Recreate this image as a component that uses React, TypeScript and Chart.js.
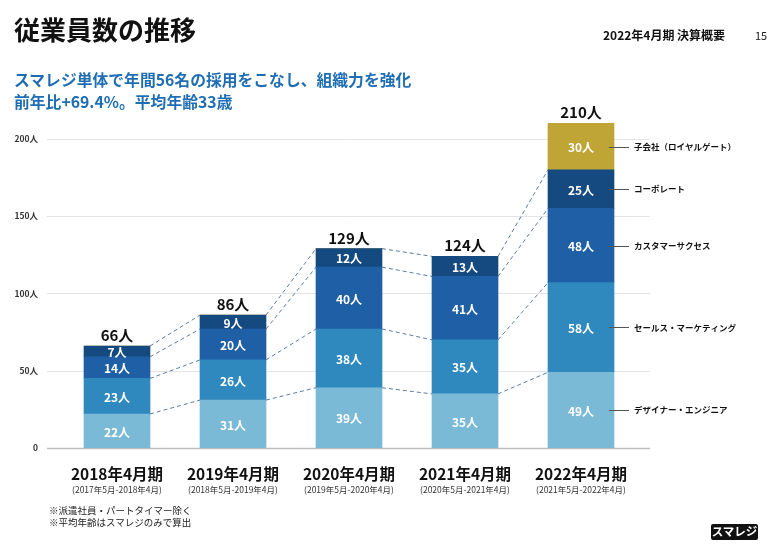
import React, { useEffect, useRef } from "react";
import { Chart, registerables } from "chart.js";
Chart.register(...registerables);

const periods = ["2018年4月期", "2019年4月期", "2020年4月期", "2021年4月期", "2022年4月期"];
const periodRanges = [
  "(2017年5月-2018年4月)",
  "(2018年5月-2019年4月)",
  "(2019年5月-2020年4月)",
  "(2020年5月-2021年4月)",
  "(2021年5月-2022年4月)",
];
const designEngineer = [22, 31, 39, 35, 49];
const salesMarketing = [23, 26, 38, 35, 58];
const customerSuccess = [14, 20, 40, 41, 48];
const corporate = [7, 9, 12, 13, 25];
const subsidiary = [0, 0, 0, 0, 30];
const totals = [66, 86, 129, 124, 210];
const yTicks = [0, 50, 100, 150, 200];
const seriesNames = [
  "デザイナー・エンジニア",
  "セールス・マーケティング",
  "カスタマーサクセス",
  "コーポレート",
  "子会社（ロイヤルゲート）",
];
const seriesColors = ["#7bbad7", "#2f89be", "#1f5fa6", "#154a80", "#bfa436"];

const FONT = '"Noto Sans CJK JP", "Noto Sans", sans-serif';

const gridPlugin = {
  id: "grid",
  beforeDatasetsDraw(chart: any) {
    const ctx = chart.ctx;
    const y = chart.scales.y;
    ctx.save();
    yTicks.forEach((v) => {
      const py = Math.round(y.getPixelForValue(v)) + 0.5;
      ctx.strokeStyle = v === 0 ? "#bdbdbd" : "#e4e4e4";
      ctx.lineWidth = v === 0 ? 1.5 : 1;
      ctx.beginPath();
      ctx.moveTo(47, py);
      ctx.lineTo(650, py);
      ctx.stroke();
    });
    ctx.restore();
  },
};

const overlayPlugin = {
  id: "overlay",
  afterDatasetsDraw(chart: any) {
    const ctx = chart.ctx;
    const y = chart.scales.y;
    const x = chart.scales.x;
    const metas = [0, 1, 2, 3, 4].map((k) => chart.getDatasetMeta(k));
    ctx.save();
    // dashed connectors
    ctx.strokeStyle = "#5d7c9c";
    ctx.lineWidth = 1;
    ctx.setLineDash([4, 3]);
    const series = [designEngineer, salesMarketing, customerSuccess, corporate];
    for (let i = 0; i < periods.length - 1; i++) {
      let cumA = 0;
      let cumB = 0;
      for (let k = 0; k < series.length; k++) {
        cumA += series[k][i];
        cumB += series[k][i + 1];
        const ea = metas[0].data[i];
        const eb = metas[0].data[i + 1];
        ctx.beginPath();
        ctx.moveTo(ea.x + ea.width / 2, y.getPixelForValue(cumA));
        ctx.lineTo(eb.x - eb.width / 2, y.getPixelForValue(cumB));
        ctx.stroke();
      }
    }
    ctx.setLineDash([]);
    // segment labels
    ctx.fillStyle = "#ffffff";
    ctx.textAlign = "center";
    ctx.textBaseline = "middle";
    ctx.font = `bold 12px ${FONT}`;
    const all = [designEngineer, salesMarketing, customerSuccess, corporate, subsidiary];
    all.forEach((arr, k) => {
      arr.forEach((v, i) => {
        if (!v) return;
        const el = metas[k].data[i];
        ctx.fillText(`${v}人`, el.x, (el.y + el.base) / 2 + 1);
      });
    });
    // totals
    ctx.fillStyle = "#111";
    ctx.font = `bold 15px ${FONT}`;
    ctx.textBaseline = "alphabetic";
    totals.forEach((t, i) => {
      const el = metas[0].data[i];
      ctx.fillText(`${t}人`, el.x, y.getPixelForValue(t) - 5);
    });
    // legend
    const last = periods.length - 1;
    ctx.font = `bold 8.5px ${FONT}`;
    ctx.textAlign = "left";
    ctx.textBaseline = "middle";
    all.forEach((arr, k) => {
      const el = metas[k].data[last];
      const cy = (el.y + el.base) / 2;
      const right = el.x + el.width / 2;
      ctx.strokeStyle = "#555";
      ctx.lineWidth = 1;
      ctx.beginPath();
      ctx.moveTo(right - 5, Math.round(cy) + 0.5);
      ctx.lineTo(right + 15, Math.round(cy) + 0.5);
      ctx.stroke();
      ctx.fillStyle = "#111";
      ctx.fillText(seriesNames[k], right + 20, cy);
    });
    // sub labels under x ticks
    ctx.textAlign = "center";
    ctx.fillStyle = "#333";
    ctx.font = `8.5px ${FONT}`;
    periodRanges.forEach((r, i) => {
      ctx.fillText(r, x.getPixelForValue(i), 490);
    });
    ctx.restore();
  },
};

function ChartCanvas() {
  const ref = useRef<HTMLCanvasElement | null>(null);
  useEffect(() => {
    if (!ref.current) return;
    const all = [designEngineer, salesMarketing, customerSuccess, corporate, subsidiary];
    const chart = new Chart(ref.current, {
      type: "bar",
      data: {
        labels: periods,
        datasets: all.map((arr, k) => ({
          label: seriesNames[k],
          data: arr,
          backgroundColor: seriesColors[k],
          borderWidth: 0,
          barThickness: 66,
        })),
      },
      options: {
        responsive: false,
        animation: false,
        layout: { padding: { left: 0, right: 133, top: 108, bottom: 0 } },
        plugins: { legend: { display: false }, tooltip: { enabled: false } },
        scales: {
          x: {
            stacked: true,
            offset: true,
            grid: { display: false },
            border: { display: false },
            afterFit: (s: any) => {
              s.height = 98;
            },
            ticks: {
              padding: 9,
              color: "#111",
              font: { family: FONT, size: 15.5, weight: "bold" },
              maxRotation: 0,
              autoSkip: false,
            },
          },
          y: {
            stacked: true,
            min: 0,
            max: 220,
            border: { display: false },
            afterBuildTicks: (s: any) => {
              s.ticks = yTicks.map((v) => ({ value: v }));
            },
            afterFit: (s: any) => {
              s.width = 59;
            },
            grid: { display: false, drawTicks: false },
            ticks: {
              padding: 21,
              color: "#333",
              font: { family: FONT, size: 8.5, weight: "bold" },
              callback: (v: any) => (Number(v) === 0 ? "0" : `${v}人`),
            },
          },
        },
      },
      plugins: [gridPlugin, overlayPlugin],
    } as any);
    return () => chart.destroy();
  }, []);
  return (
    <canvas
      ref={ref}
      width={772}
      height={546}
      style={{ position: "absolute", left: 0, top: 0, width: 772, height: 546 }}
    />
  );
}

export default function App() {
  const base: React.CSSProperties = {
    position: "absolute",
    fontFamily: FONT,
    fontWeight: 700,
    lineHeight: 1,
    whiteSpace: "nowrap",
    margin: 0,
  };
  return (
    <div
      style={{
        position: "absolute",
        left: 0,
        top: 0,
        width: 772,
        height: 546,
        background: "#fff",
        overflow: "hidden",
        fontFamily: FONT,
      }}
    >
      <ChartCanvas />
      <div style={{ ...base, left: 14, top: 16, fontSize: 26, color: "#111" }}>従業員数の推移</div>
      <div style={{ ...base, left: 603, top: 29, fontSize: 12, color: "#111" }}>2022年4月期 決算概要</div>
      <div style={{ ...base, left: 755, top: 30, fontSize: 11, fontWeight: 400, color: "#222" }}>15</div>
      <div style={{ ...base, left: 14, top: 72, fontSize: 15.8, color: "#1f6eb3" }}>
        スマレジ単体で年間56名の採用をこなし、組織力を強化
      </div>
      <div style={{ ...base, left: 14, top: 94, fontSize: 15.8, color: "#1f6eb3" }}>
        前年比+69.4%。平均年齢33歳
      </div>
      <div style={{ ...base, left: 49, top: 506, fontSize: 9.5, fontWeight: 400, color: "#222" }}>
        ※派遣社員・パートタイマー除く
      </div>
      <div style={{ ...base, left: 49, top: 518, fontSize: 9.5, fontWeight: 400, color: "#222" }}>
        ※平均年齢はスマレジのみで算出
      </div>
      <div
        style={{
          ...base,
          left: 711,
          top: 524,
          width: 47,
          height: 16,
          background: "#111",
          borderRadius: 2,
          color: "#fff",
          fontSize: 11.5,
          display: "flex",
          alignItems: "center",
          justifyContent: "center",
        }}
      >
        スマレジ
      </div>
    </div>
  );
}
